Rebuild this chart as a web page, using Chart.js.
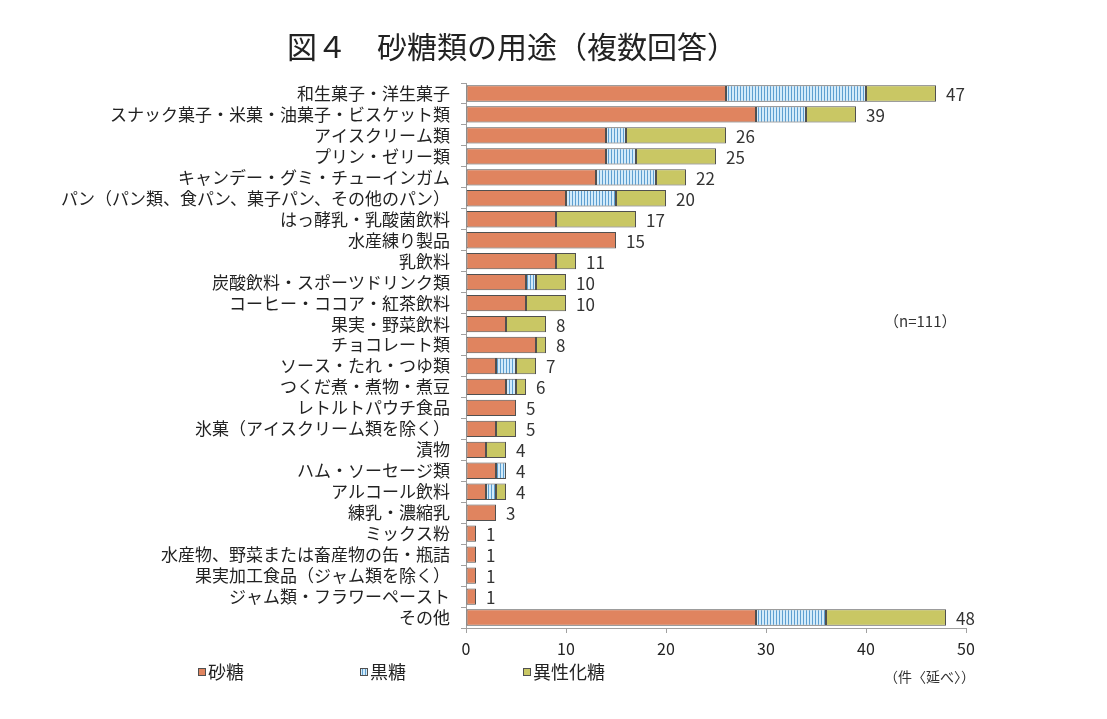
<!DOCTYPE html>
<html lang="ja">
<head>
<meta charset="utf-8">
<title>図４ 砂糖類の用途</title>
<script src="https://cdn.jsdelivr.net/npm/chart.js@4/dist/chart.umd.min.js"></script>
<style>
  html, body { margin: 0; padding: 0; background: #fff; }
  #wrap { width: 1107px; height: 719px; }
</style>
</head>
<body>
<div id="wrap"><canvas id="sugarChart" width="1107" height="719"></canvas></div>
<script>
const categories = [
    '和生菓子・洋生菓子',
    'スナック菓子・米菓・油菓子・ビスケット類',
    'アイスクリーム類',
    'プリン・ゼリー類',
    'キャンデー・グミ・チューインガム',
    'パン（パン類、食パン、菓子パン、その他のパン）',
    'はっ酵乳・乳酸菌飲料',
    '水産練り製品',
    '乳飲料',
    '炭酸飲料・スポーツドリンク類',
    'コーヒー・ココア・紅茶飲料',
    '果実・野菜飲料',
    'チョコレート類',
    'ソース・たれ・つゆ類',
    'つくだ煮・煮物・煮豆',
    'レトルトパウチ食品',
    '氷菓（アイスクリーム類を除く）',
    '漬物',
    'ハム・ソーセージ類',
    'アルコール飲料',
    '練乳・濃縮乳',
    'ミックス粉',
    '水産物、野菜または畜産物の缶・瓶詰',
    '果実加工食品（ジャム類を除く）',
    'ジャム類・フラワーペースト',
    'その他'
];
const sugar = [26, 29, 14, 14, 13, 10, 9, 15, 9, 6, 6, 4, 7, 3, 4, 5, 3, 2, 3, 2, 3, 1, 1, 1, 1, 29];
const kokuto = [14, 5, 2, 3, 6, 5, 0, 0, 0, 1, 0, 0, 0, 2, 1, 0, 0, 0, 1, 1, 0, 0, 0, 0, 0, 7];
const hfcs = [7, 5, 10, 8, 3, 5, 8, 0, 2, 3, 4, 4, 1, 2, 1, 0, 2, 2, 0, 1, 0, 0, 0, 0, 0, 12];
const seriesNames = ['砂糖', '黒糖', '異性化糖'];
const xTicks = [0, 10, 20, 30, 40, 50];

const FONT = '"Noto Sans CJK JP", "Noto Sans", sans-serif';
const EDGE = '#505050';

// striped fill for 黒糖
function makeStripes() {
    const c = document.createElement('canvas');
    c.width = 3;
    c.height = 3;
    const g = c.getContext('2d');
    g.fillStyle = '#d3ebfa';
    g.fillRect(0, 0, 3, 3);
    g.fillStyle = '#5e9fd0';
    g.fillRect(2, 0, 1, 3);
    return g.createPattern(c, 'repeat');
}

const ctx = document.getElementById('sugarChart').getContext('2d');
const stripes = makeStripes();
const fills = ['#e0845f', stripes, '#c9c764'];

const noZero = arr => arr.map(v => v === 0 ? null : v);

const extras = {
    id: 'extras',
    afterDraw(chart) {
        const c = chart.ctx;
        const xs = chart.scales.x;
        const ys = chart.scales.y;
        c.save();

        // title
        c.fillStyle = '#222';
        c.font = '30px ' + FONT;
        c.textAlign = 'center';
        c.textBaseline = 'middle';
        c.fillText('図４　砂糖類の用途（複数回答）', 512, 47);

        // totals at bar ends
        c.font = '17px ' + FONT;
        c.textAlign = 'left';
        c.fillStyle = '#333';
        categories.forEach((_, i) => {
            const total = sugar[i] + kokuto[i] + hfcs[i];
            c.fillText(String(total), xs.getPixelForValue(total) + 10, ys.getPixelForValue(i) + 1);
        });

        // n and unit
        c.font = '15px ' + FONT;
        c.fillText('（n=111）', 884, 321);
        c.font = '14px ' + FONT;
        c.fillText('（件〈延べ〉）', 884, 677);

        // legend
        const legendX = [198, 360, 523];
        c.font = '18px ' + FONT;
        seriesNames.forEach((name, k) => {
            const x = legendX[k];
            c.fillStyle = fills[k];
            c.fillRect(x, 668, 8, 8);
            c.strokeStyle = EDGE;
            c.lineWidth = 1;
            c.strokeRect(x + 0.5, 668.5, 7, 7);
            c.fillStyle = '#222';
            c.fillText(name, x + 10, 672);
        });

        c.restore();
    }
};

new Chart(ctx, {
    type: 'bar',
    data: {
        labels: categories,
        datasets: [
            { label: seriesNames[0], data: noZero(sugar), backgroundColor: fills[0] },
            { label: seriesNames[1], data: noZero(kokuto), backgroundColor: fills[1] },
            { label: seriesNames[2], data: noZero(hfcs), backgroundColor: fills[2] }
        ].map(d => Object.assign(d, {
            borderColor: EDGE,
            borderWidth: 1,
            borderSkipped: false,
            barPercentage: 0.78,
            categoryPercentage: 1
        }))
    },
    options: {
        indexAxis: 'y',
        responsive: false,
        animation: false,
        devicePixelRatio: 1,
        layout: { padding: { top: 83, right: 141, bottom: 0, left: 0 } },
        plugins: {
            legend: { display: false },
            tooltip: { enabled: false }
        },
        scales: {
            x: {
                stacked: true,
                min: 0,
                max: 50,
                afterFit(scale) { scale.height = 91; },
                afterBuildTicks(scale) { scale.ticks = xTicks.map(v => ({ value: v })); },
                grid: { drawOnChartArea: false, drawTicks: true, tickLength: 5, color: '#a0a0a0' },
                border: { color: '#a0a0a0' },
                ticks: { color: '#222', padding: 6, font: { family: FONT, size: 16 } }
            },
            y: {
                stacked: true,
                afterFit(scale) { scale.width = 466; },
                grid: { drawOnChartArea: false, drawTicks: true, tickLength: 5, color: '#a0a0a0', offset: true },
                border: { color: '#a0a0a0' },
                ticks: { color: '#222', padding: 11, autoSkip: false, font: { family: FONT, size: 17 } }
            }
        }
    },
    plugins: [extras]
});
</script>
</body>
</html>
